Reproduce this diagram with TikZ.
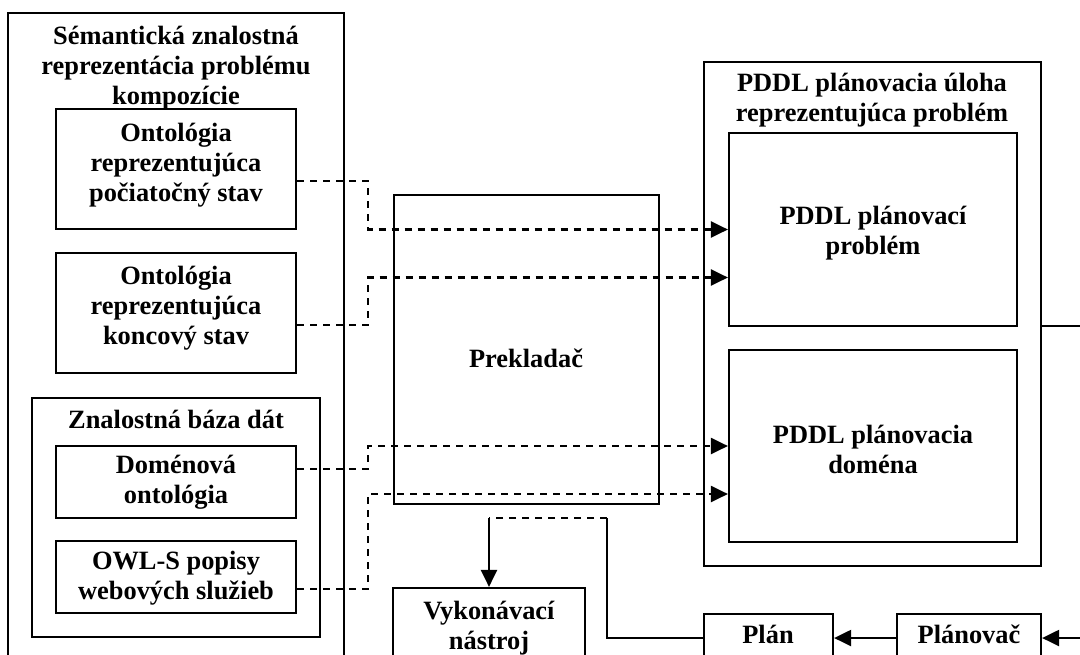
\documentclass[tikz,border=0pt]{standalone}
\usepackage{fontspec}
\setmainfont{Liberation Serif}
\usetikzlibrary{fit,arrows.meta}
\begin{document}
\begin{tikzpicture}[x=0.5pt,y=-0.5pt, line width=1.1pt,
  box/.style={draw, line width=1.1pt, inner sep=0pt},
  txt/.style={font=\fontsize{13.2}{15}\selectfont\bfseries, align=center, inner sep=0pt},
  link/.style={dash pattern=on 3.6pt off 2.9pt},
  arr/.style={-{Triangle[length=8.5pt,width=8pt]}}]
\useasboundingbox (0,0) rectangle (1080,654);
\fill[white] (0,0) rectangle (1080,654);
\clip (0,0) rectangle (1080,654);

% semantic representation of the composition problem
\node[box, fit={(8,13) (344,700)}] (sem) {};
\node[txt] (semT) at (176,68) {Sémantická znalostná\\reprezentácia problému\\kompozície};
\node[box, fit={(56,109) (296,229)}] (ont1) {};
\node[txt] (ont1T) at (176,165) {Ontológia\\reprezentujúca\\počiatočný stav};
\node[box, fit={(56,253) (296,373)}] (ont2) {};
\node[txt] (ont2T) at (176,308) {Ontológia\\reprezentujúca\\koncový stav};
\node[box, fit={(32,398) (320,637)}] (kb) {};
\node[txt] (kbT) at (176,419) {Znalostná báza dát};
\node[box, fit={(56,446) (296,518)}] (dom) {};
\node[txt] (domT) at (176,482) {Doménová\\ontológia};
\node[box, fit={(56,541) (296,613)}] (owl) {};
\node[txt] (owlT) at (176,578) {OWL-S popisy\\webových služieb};

% translator
\node[box, fit={(394,195) (659,504)}] (prek) {};
\node[txt] (prekT) at (526,358) {Prekladač};

% PDDL planning task
\node[box, fit={(704,62) (1041,566)}] (pddl) {};
\node[txt] (pddlT) at (872,100) {PDDL plánovacia úloha\\reprezentujúca problém};
\node[box, fit={(729,133) (1017,326)}] (prob) {};
\node[txt] (probT) at (873,233) {PDDL plánovací\\problém};
\node[box, fit={(729,350) (1017,542)}] (dom2) {};
\node[txt] (dom2T) at (873,449) {PDDL plánovacia\\doména};

% bottom row
\node[box, fit={(393,588) (585,700)}] (vyk) {};
\node[txt] (vykT) at (489,628) {Vykonávací\\nástroj};
\node[box, fit={(704,614) (833,662)}] (plan) {};
\node[txt] (planT) at (768,634) {Plán};
\node[box, fit={(897,614) (1041,662)}] (planovac) {};
\node[txt] (planovacT) at (969,634) {Plánovač};

% dashed feeds through the translator
\coordinate (jx) at (368,0);
\coordinate (o1) at ([yshift=-6pt]ont1.east);
\coordinate (o2) at ([yshift=-6pt]ont2.east);
\coordinate (o3) at ([yshift=6.5pt]dom.east);
\coordinate (o4) at ([yshift=-6pt]owl.east);
\coordinate (t1) at (prob.west);
\coordinate (t2) at ([yshift=-24pt]prob.west);
\coordinate (t3) at (dom2.west);
\coordinate (t4) at ([yshift=-24pt]dom2.west);
\draw[link, arr] (o1) -| (jx |- t1) -- (t1);
\draw[link, arr] (o2) -| (jx |- t2) -- (t2);
\draw[link, arr] (o3) -| (jx |- t3) -- (t3);
\draw[link, arr] (o4) -| (jx |- t4) -- (t4);

% planning loop
\coordinate (outR) at (1090,326);
\draw ([yshift=-6pt]pddl.east) -- (outR);
\coordinate (inR) at (1090,638);
\draw[arr] (inR) -- (planovac.east);
\draw[arr] (planovac.west) -- (plan.east);
\coordinate (k1) at (607,518);
\coordinate (k2) at (vyk.north |- k1);
\draw (plan.west) -| (k1);
\draw[link] (k1) -- (k2);
\draw[arr] (k2) -- (vyk.north);
\end{tikzpicture}
\end{document}
